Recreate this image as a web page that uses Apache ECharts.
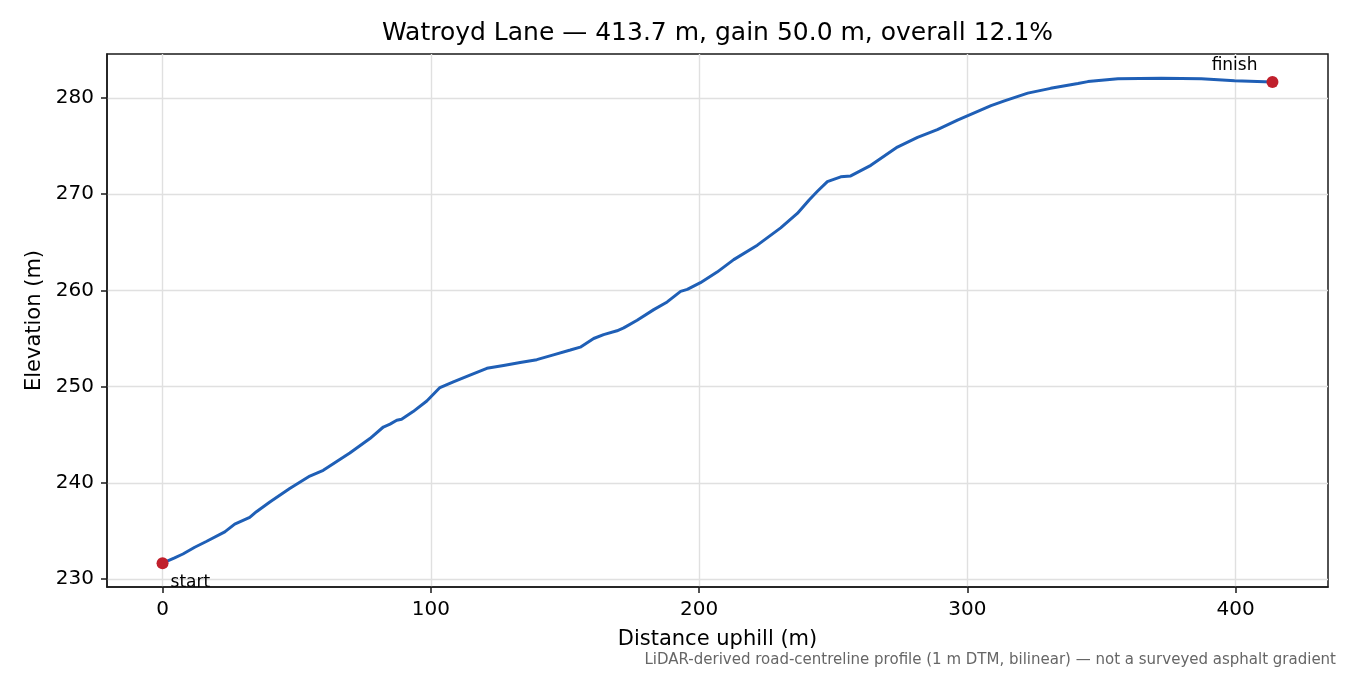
<!doctype html>
<html>
<head>
<meta charset="utf-8">
<script src="https://cdn.jsdelivr.net/npm/echarts@6/dist/echarts.min.js"></script>
<style>
    html, body { margin: 0; padding: 0; background: #fff; }
    #main { width: 1350px; height: 675px; }
</style>
</head>
<body>
<div id="main"></div>
<script>
// profile (distance uphill in m, elevation in m)
var distance = [0, 4.5, 7.6, 12, 16.3, 23.2, 26.9, 32.5, 35, 40, 47.4, 54.9, 59.9, 69.8, 77.3,
    82.3, 84.8, 87.3, 89.1, 93.4, 98.5, 103.4, 108.4, 114.6, 120.9, 127.1, 133.3, 139.5, 145.7,
    152, 155.7, 160.7, 164.4, 169.4, 171.9, 176.9, 183.1, 188.1, 193.1, 195.6, 200.5, 206.7,
    212.9, 221.7, 230.4, 236.6, 241, 244.1, 247.8, 252.8, 256.5, 264, 273.9, 281.4, 288.8,
    296.3, 308.8, 313.8, 322.5, 331, 341.2, 344.9, 356.1, 372.3, 387.2, 399.6, 413.7];
var elevation = [231.65, 232.2, 232.6, 233.3, 233.9, 234.9, 235.7, 236.4, 237.0, 238.0, 239.4,
    240.7, 241.3, 243.1, 244.6, 245.8, 246.1, 246.5, 246.6, 247.4, 248.5, 249.9, 250.5, 251.2,
    251.9, 252.2, 252.5, 252.8, 253.3, 253.8, 254.1, 255.0, 255.4, 255.8, 256.1, 256.9, 258.0,
    258.8, 259.9, 260.1, 260.8, 261.9, 263.2, 264.7, 266.5, 268.0, 269.4, 270.3, 271.3, 271.8,
    271.9, 273.0, 274.9, 275.9, 276.7, 277.7, 279.2, 279.7, 280.5, 281.0, 281.5, 281.7, 282.0,
    282.05, 282.0, 281.8, 281.65];
var xTicks = [0, 100, 200, 300, 400];
var yTicks = [230, 240, 250, 260, 270, 280];
var titleText = 'Watroyd Lane \u2014 413.7 m, gain 50.0 m, overall 12.1%';
var noteText = 'LiDAR-derived road-centreline profile (1 m DTM, bilinear) \u2014 not a surveyed asphalt gradient';

var profile = distance.map(function (d, i) { return [d, elevation[i]]; });
var last = profile.length - 1;

var font = 'DejaVu Sans';
var chart = echarts.init(document.getElementById('main'));

var option = {
    backgroundColor: '#fff',
    animation: false,
    textStyle: { fontFamily: font },
    grid: {
        left: 107, right: 22, top: 54, bottom: 88,
        show: true, borderColor: '#1a1a1a', borderWidth: 1.5,
        containLabel: false
    },
    graphic: [
        {
            type: 'text',
            style: {
                text: titleText, x: 717.5, y: 33,
                textAlign: 'center', textVerticalAlign: 'middle',
                font: '25px "DejaVu Sans"', fill: '#000'
            }
        },
        {
            type: 'text',
            style: {
                text: noteText, x: 1336, y: 660,
                textAlign: 'right', textVerticalAlign: 'middle',
                font: '15px "DejaVu Sans"', fill: '#666'
            }
        }
    ],
    xAxis: {
        type: 'value',
        min: -20.7, max: 434.4,
        name: 'Distance uphill (m)',
        nameLocation: 'middle', nameGap: 42,
        nameTextStyle: { fontSize: 21, color: '#000', fontFamily: font },
        axisLine: { show: true, onZero: false, lineStyle: { color: '#1a1a1a', width: 1.5 } },
        axisTick: { show: true, length: 6, customValues: xTicks, lineStyle: { color: '#1a1a1a', width: 1.5 } },
        axisLabel: { customValues: xTicks, margin: 13, fontSize: 20, color: '#000', fontFamily: font },
        splitLine: { show: true, lineStyle: { color: '#e0e0e0', width: 1.4 } }
    },
    yAxis: {
        type: 'value',
        min: 229.17, max: 284.57,
        name: 'Elevation (m)',
        nameLocation: 'middle', nameGap: 61,
        nameTextStyle: { fontSize: 21, color: '#000', fontFamily: font },
        axisLine: { show: true, onZero: false, lineStyle: { color: '#1a1a1a', width: 1.5 } },
        axisTick: { show: true, length: 6, customValues: yTicks, lineStyle: { color: '#1a1a1a', width: 1.5 } },
        axisLabel: { customValues: yTicks, margin: 13, fontSize: 20, color: '#000', fontFamily: font },
        splitLine: { show: true, lineStyle: { color: '#e0e0e0', width: 1.4 } }
    },
    series: [
        {
            type: 'line',
            data: profile,
            showSymbol: false,
            smooth: false,
            lineStyle: { color: '#1f5fb6', width: 3 },
            z: 2
        },
        {
            type: 'scatter',
            symbolSize: 12,
            itemStyle: { color: '#c0202c', opacity: 1 },
            z: 3,
            data: [
                {
                    value: profile[0],
                    label: {
                        show: true, formatter: 'start', position: 'right',
                        distance: 2, offset: [0, 19],
                        fontSize: 17, color: '#000', fontFamily: font
                    }
                },
                {
                    value: profile[last],
                    label: {
                        show: true, formatter: 'finish', position: 'left',
                        distance: 9, offset: [0, -17],
                        fontSize: 17, color: '#000', fontFamily: font
                    }
                }
            ]
        }
    ]
};

chart.setOption(option);
</script>
</body>
</html>
